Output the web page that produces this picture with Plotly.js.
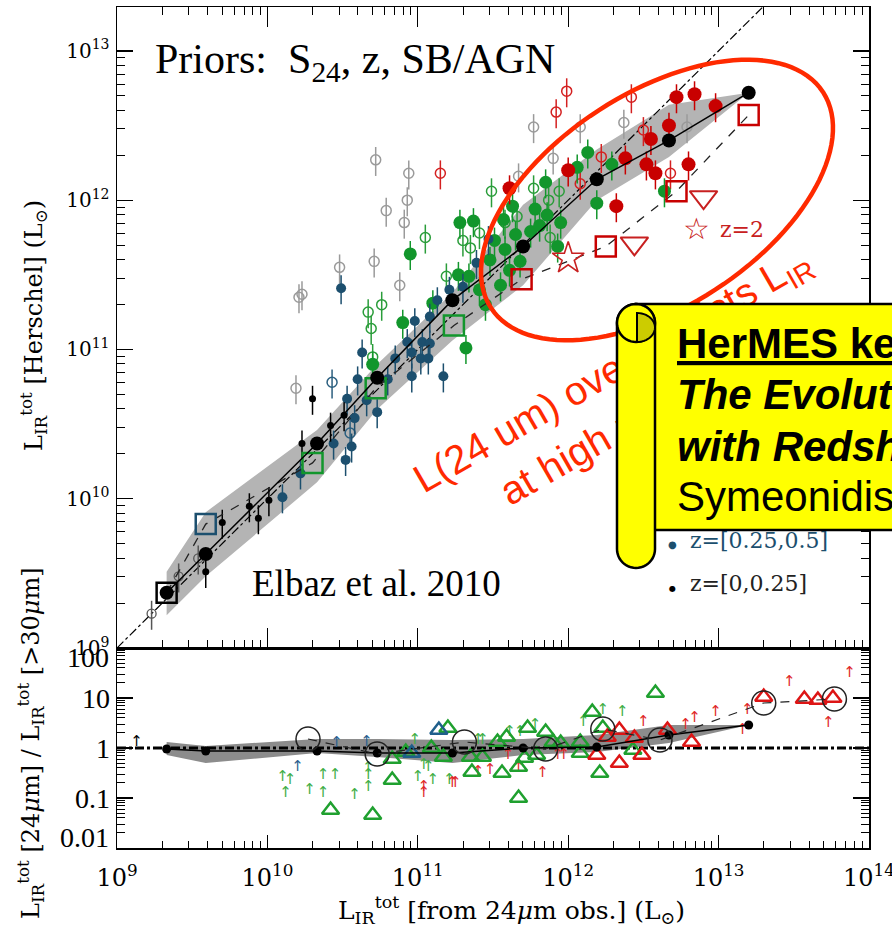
<!DOCTYPE html>
<html>
<head>
<meta charset="utf-8">
<script src="https://cdn.plot.ly/plotly-3.0.1.min.js"></script>
<style>
  html, body { margin: 0; padding: 0; background: #fff; overflow: hidden; }
  #chart, #banner { position: absolute; left: 0; top: 0; width: 892px; height: 930px; }
  #banner { pointer-events: none; }
</style>
</head>
<body>
<div id="chart"></div>
<div id="banner"></div>
<script>
// ===== Data: log10 luminosities (L_sun) =====
// Upper panel: L_IR from Herschel vs L_IR extrapolated from 24um
const medLogL24 = [9.33, 9.59, 10.33, 10.73, 11.23, 11.70, 12.19, 12.67, 13.20];
const medLogLH  = [9.37, 9.63, 10.37, 10.81, 11.33, 11.69, 12.14, 12.40, 12.72];
const bandLogHi = [9.51, 9.91, 10.46, 10.90, 11.38, 11.97, 12.34, 12.64, 12.72];
const bandLogLo = [9.22, 9.48, 10.11, 10.60, 11.06, 11.43, 12.00, 12.29, 12.72];

const sqLogL24 = [9.33, 9.59, 10.30, 10.72, 11.24, 11.69, 12.25, 12.72, 13.20];
const sqLogLH  = [9.37, 9.83, 10.24, 10.74, 11.16, 11.47, 11.69, 12.06, 12.57];
const sqBin    = [0, 1, 2, 2, 2, 3, 3, 3, 3];

const starLogL24 = [12.00];
const starLogLH  = [11.61];
const triDnLogL24 = [12.44, 12.90];
const triDnLogLH  = [11.71, 12.02];

const grayLogL24 = [10.72, 10.94, 10.93, 10.79, 10.91, 10.71, 10.48, 10.23, 10.21, 10.88, 10.19, 11.77, 12.08, 12.37, 12.79, 11.90, 11.67];
const grayLogLH  = [12.27, 12.18, 12.00, 11.93, 11.85, 11.59, 11.55, 11.37, 11.35, 11.43, 10.74, 12.49, 12.49, 12.52, 12.49, 12.28, 12.16];

const z0OpenLogL24 = [9.41, 9.23, 9.54];
const z0OpenLogLH  = [9.48, 9.23, 9.60];
const z0LogL24 = [10.30, 10.23, 10.42, 10.51, 10.01, 9.94, 9.88, 9.70, 9.59];
const z0LogLH  = [10.67, 10.37, 10.49, 10.56, 9.99, 9.87, 9.95, 9.84, 9.51];

const z1LogL24 = [10.49, 11.47, 11.39, 11.13, 11.30, 10.98, 11.21, 11.08, 10.93, 11.03, 11.08, 10.63, 10.85, 10.96, 11.02,
                  11.07, 10.96, 11.17, 10.80, 10.60, 10.53, 10.66, 10.58, 10.73, 10.44, 10.56, 10.52, 10.22, 10.10];
const z1LogLH  = [11.41, 11.74, 11.58, 11.33, 11.42, 11.19, 11.40, 11.22, 11.05, 11.05, 11.04, 10.98, 10.94, 10.98, 10.94,
                  10.94, 10.82, 10.82, 10.80, 10.80, 10.67, 10.66, 10.54, 10.58, 10.37, 10.35, 10.26, 10.17, 10.01];
const z1OpenLogL24 = [10.43, 10.55];
const z1OpenLogLH  = [10.78, 10.44];

const z2LogL24 = [11.28, 11.37, 10.95, 11.27, 11.34, 10.90, 11.10, 11.32, 10.70, 12.13, 12.06, 12.29, 11.85, 12.64, 12.19, 11.63,
                  11.78, 11.86, 11.95, 11.93, 11.57, 11.51, 11.58, 11.65, 11.48, 11.61, 11.55, 11.68, 11.75, 11.41, 11.45, 11.81];
const z2LogLH  = [11.85, 11.86, 11.64, 11.50, 11.49, 11.18, 11.31, 11.01, 10.90, 12.32, 12.22, 12.24, 12.12, 12.06, 11.98, 11.96,
                  11.94, 11.90, 11.85, 11.69, 11.87, 11.73, 11.67, 11.77, 11.60, 11.53, 11.43, 11.59, 11.79, 11.40, 11.30, 11.83];
const z2OpenLogL24 = [11.49, 11.05, 11.30, 11.41, 11.35, 11.19, 10.76, 10.67, 10.69, 11.77, 11.94, 11.87, 11.66, 11.58, 11.88, 10.70];
const z2OpenLogLH  = [12.06, 11.75, 11.73, 11.78, 11.68, 11.49, 11.30, 11.25, 11.14, 12.08, 12.06, 12.00, 11.89, 11.85, 11.75, 10.95];

const z3LogL24 = [12.72, 12.84, 12.98, 12.67, 12.55, 12.38, 12.00, 12.52, 12.58, 12.80, 11.61, 12.32];
const z3LogLH  = [12.69, 12.71, 12.63, 12.50, 12.41, 12.28, 12.20, 12.24, 12.18, 12.24, 12.08, 11.96];
const z3OpenLogL24 = [11.15, 11.99, 11.92, 12.42, 12.50, 12.22, 12.68, 12.08];
const z3OpenLogLH  = [12.18, 12.73, 12.59, 12.69, 12.47, 12.29, 12.18, 12.11];

// Lower panel: log10 of L_IR[24um] / L_IR[>30um]
const medLogRatio = [-0.02, -0.06, -0.06, -0.10, -0.10, 0.00, 0.02, 0.26, 0.46];
const ratioBandHi = [0.12, 0.04, 0.18, 0.18, 0.16, 0.18, 0.26, 0.46, 0.46];
const ratioBandLo = [-0.14, -0.30, -0.10, -0.18, -0.30, -0.14, -0.08, 0.10, 0.46];

const circLogL24   = [10.27, 10.73, 11.31, 11.85, 12.23, 12.61, 13.30, 13.77];
const circLogRatio = [0.18, -0.12, 0.12, -0.02, 0.38, 0.16, 0.90, 0.98];

const triGLogL24 = [10.42, 10.70, 10.83, 10.83, 11.20, 11.09, 11.17, 10.92, 11.53, 11.59, 11.73, 11.85, 11.35, 11.43, 11.36,
                    11.56, 11.67, 11.71, 11.67, 11.79, 11.90, 11.95, 12.08, 12.08, 12.16, 12.23, 12.21, 12.58, 12.43];
const triGLogRatio = [-1.24, -1.34, -0.22, -0.64, 0.40, 0.00, -0.18, -0.08, 0.12, 0.22, 0.40, 0.32, -0.18, -0.18, -0.48,
                      -0.50, -0.38, -0.20, -1.00, -0.14, 0.12, 0.10, -0.10, 0.12, 0.72, 0.40, -0.50, 1.10, -0.04];
const triBLogL24 = [11.14, 10.96];
const triBLogRatio = [0.36, -0.10];
const triRLogL24 = [12.34, 12.26, 12.34, 12.44, 12.49, 12.66, 12.82, 13.30, 13.57, 13.66, 13.76, 12.19];
const triRLogRatio = [0.36, 0.22, -0.30, 0.20, -0.14, 0.36, 0.12, 1.02, 0.98, 0.96, 1.00, -0.14];

// lower limits (upward arrows)
const limKLogL24 = [9.13];
const limKLogRatio = [0.12];
const limBLogL24 = [10.20, 10.46, 10.66];
const limBLogRatio = [-0.38, 0.10, 0.12];
const limGLogL24 = [10.10, 10.15, 10.12, 10.28, 10.37, 10.45, 10.37, 10.58, 10.67, 10.67, 10.67, 10.98, 11.00,
                    11.04, 11.07, 11.10, 11.21, 11.40, 11.43, 11.61, 11.68, 11.78, 12.10, 12.23, 12.36];
const limGLogRatio = [-0.58, -0.64, -0.90, -0.84, -0.54, -0.54, -0.90, -0.94, -0.40, -0.54, -0.78, 0.16, -0.58,
                      -0.34, -0.38, -0.64, -0.64, 0.16, 0.16, 0.32, 0.32, 0.46, 0.52, 0.76, 0.72];
const limRLogL24 = [11.04, 11.04, 11.23, 11.25, 11.40, 11.48, 11.60, 11.67, 11.83, 11.93, 11.97, 12.50, 12.78, 12.84,
                    12.98, 13.19, 13.16, 13.47, 13.73, 13.87];
const limRLogRatio = [-0.78, -0.90, -0.70, -0.70, -0.48, -0.44, -0.14, -0.40, -0.50, -0.14, -0.14, 0.52, 0.46, 0.60,
                      0.72, 0.76, 0.36, 1.32, 0.50, 1.50];

const oneToOne = [1e9, 1e14];
const unity = [1, 1];

// axis ticks
const xDecades = [1e9, 1e10, 1e11, 1e12, 1e13, 1e14];
const xTickText = ['10<sup>9</sup>', '10<sup>10</sup>', '10<sup>11</sup>', '10<sup>12</sup>', '10<sup>13</sup>', '10<sup>14</sup>'];
const yDecades = [1e9, 1e10, 1e11, 1e12, 1e13];
const yTickText = ['10<sup>9</sup>', '10<sup>10</sup>', '10<sup>11</sup>', '10<sup>12</sup>', '10<sup>13</sup>'];
const rDecades = [0.1, 1, 10];
const rTickText = ['0.1', '1', '10'];
const rEdgeText = ['100', '0.01'];

// ===== Styling and layout =====
const binColor = ['#000000', '#1c4f6e', '#12962c', '#c80000'];
const C = { gray: '#9a9a9a', red: '#ff2a00', legRed: '#c82020', band: '#b4b4b4' };

// plot-area frame in page pixels
const L = 117, R = 869, T = 7, B = 848, SPLIT = 648;
const W = R - L, H = B - T;
const px = x => (x - L) / W;
const py = y => (B - y) / H;

const pow10 = a => a.map(v => Math.pow(10, v));
function minorVals(lo, hi) {
  const out = [];
  for (let e = lo; e < hi; e++) for (let m = 2; m <= 9; m++) out.push(m * Math.pow(10, e));
  return out;
}

function pts(lx, ly, extra) {
  return Object.assign({ x: pow10(lx), y: pow10(ly), type: 'scatter', mode: 'markers',
                         hoverinfo: 'skip', showlegend: false, cliponaxis: true }, extra);
}
function errBar(color) {
  return { type: 'percent', value: 22, color: color, thickness: 1.5, width: 0 };
}

const traces = [];
// ---- upper panel ----
traces.push({ x: pow10(medLogL24.concat(medLogL24.slice().reverse())),
              y: pow10(bandLogHi.concat(bandLogLo.slice().reverse())),
              type: 'scatter', mode: 'lines', fill: 'toself', fillcolor: C.band,
              line: { width: 0 }, hoverinfo: 'skip', showlegend: false });
traces.push({ x: oneToOne, y: oneToOne, type: 'scatter', mode: 'lines',
              line: { color: '#000', width: 1.2, dash: 'dashdot' }, hoverinfo: 'skip', showlegend: false });

traces.push(pts(grayLogL24, grayLogLH, { marker: { symbol: 'circle-open', size: 10, color: C.gray, line: { width: 1.5 } }, error_y: errBar(C.gray) }));
traces.push(pts(z0OpenLogL24, z0OpenLogLH, { marker: { symbol: 'circle-open', size: 9, color: '#555', line: { width: 1.3 } }, error_y: errBar('#555') }));
traces.push(pts(z3OpenLogL24, z3OpenLogLH, { marker: { symbol: 'circle-open', size: 10, color: '#d42020', line: { width: 1.5 } }, error_y: errBar('#d42020') }));
traces.push(pts(z2OpenLogL24, z2OpenLogLH, { marker: { symbol: 'circle-open', size: 10, color: '#2a9d3a', line: { width: 1.5 } }, error_y: errBar('#2a9d3a') }));
traces.push(pts(z1OpenLogL24, z1OpenLogLH, { marker: { symbol: 'circle-open', size: 10, color: '#2b5f7f', line: { width: 1.5 } }, error_y: errBar('#2b5f7f') }));
traces.push(pts(z2LogL24, z2LogLH, { marker: { symbol: 'circle', size: 13, color: binColor[2] }, error_y: errBar(binColor[2]) }));
traces.push(pts(z3LogL24, z3LogLH, { marker: { symbol: 'circle', size: 14, color: binColor[3] }, error_y: errBar(binColor[3]) }));
traces.push(pts(z1LogL24, z1LogLH, { marker: { symbol: 'circle', size: 10, color: binColor[1] }, error_y: errBar(binColor[1]) }));
traces.push(pts(z0LogL24, z0LogLH, { marker: { symbol: 'circle', size: 7, color: binColor[0] }, error_y: errBar(binColor[0]) }));

traces.push(pts(sqLogL24, sqLogLH, { mode: 'lines', line: { color: '#222', width: 1.3, dash: 'dash' } }));
traces.push(pts(sqLogL24, sqLogLH, { marker: { symbol: 'square-open', size: 20, color: sqBin.map(b => binColor[b]), line: { width: 2.5 } } }));
traces.push(pts(starLogL24, starLogLH, { marker: { symbol: 'star-open', size: 24, color: C.legRed, line: { width: 1.6 } } }));
traces.push(pts(triDnLogL24, triDnLogLH, { marker: { symbol: 'triangle-down-open', size: 24, color: C.legRed, line: { width: 2 } } }));
traces.push(pts(medLogL24, medLogLH, { mode: 'lines+markers', line: { color: '#000', width: 1.5 }, marker: { size: 14, color: '#000' } }));

// ---- lower panel ----
const lo = { xaxis: 'x2', yaxis: 'y2' };
traces.push(Object.assign({ x: pow10(medLogL24.concat(medLogL24.slice().reverse())),
              y: pow10(ratioBandHi.concat(ratioBandLo.slice().reverse())),
              type: 'scatter', mode: 'lines', fill: 'toself', fillcolor: '#8c8c8c',
              line: { width: 0 }, hoverinfo: 'skip', showlegend: false }, lo));
traces.push(Object.assign({ x: oneToOne, y: unity, type: 'scatter', mode: 'lines',
              line: { color: '#000', width: 3, dash: 'dashdot' }, hoverinfo: 'skip', showlegend: false }, lo));

function arrows(lx, lr, color) {
  return pts(lx, lr, Object.assign({ mode: 'text', text: lx.map(() => '\u2191'),
               textfont: { family: 'DejaVu Sans', size: 15, color: color } }, lo));
}
traces.push(arrows(limKLogL24, limKLogRatio, '#000'));
traces.push(arrows(limBLogL24, limBLogRatio, '#2b5f8f'));
traces.push(arrows(limGLogL24, limGLogRatio, '#3fae46'));
traces.push(arrows(limRLogL24, limRLogRatio, '#e02828'));

traces.push(pts(triGLogL24, triGLogRatio, Object.assign({ marker: { symbol: 'triangle-up-open', size: 15, color: '#1fa02f', line: { width: 2.5 } } }, lo)));
traces.push(pts(triBLogL24, triBLogRatio, Object.assign({ marker: { symbol: 'triangle-up-open', size: 15, color: '#1f5f8b', line: { width: 2.5 } } }, lo)));
traces.push(pts(triRLogL24, triRLogRatio, Object.assign({ marker: { symbol: 'triangle-up-open', size: 15, color: '#dd1515', line: { width: 2.5 } } }, lo)));

traces.push(pts(medLogL24, medLogRatio, Object.assign({ mode: 'lines+markers', line: { color: '#000', width: 1.5 }, marker: { size: 9, color: '#000' } }, lo)));
traces.push(pts(circLogL24, circLogRatio, Object.assign({ mode: 'lines+markers', line: { color: '#222', width: 1.2, dash: 'dash' },
               marker: { symbol: 'circle-open', size: 24, color: '#222', line: { width: 1.5 } } }, lo)));

// ---- axes ----
const axisBase = { type: 'log', showgrid: false, zeroline: false, showline: true, linecolor: '#000',
                   linewidth: 1.5, ticks: 'inside', tickcolor: '#000', tickwidth: 1.3, tickmode: 'array',
                   ticklabeloverflow: 'allow' };
const serif = 'DejaVu Serif';
const times = 'Liberation Serif';

const layout = {
  width: 892, height: 930,
  margin: { l: L, r: 892 - R, t: T, b: 930 - B },
  paper_bgcolor: '#fff', plot_bgcolor: '#fff',
  showlegend: false,
  font: { family: serif, color: '#000' },
  xaxis: Object.assign({}, axisBase, { domain: [0, 1], range: [9, 14], anchor: 'y', tickvals: xDecades,
         showticklabels: false, ticklen: 20, mirror: 'ticks',
         minor: { ticks: 'inside', ticklen: 8, tickvals: minorVals(9, 14), tickcolor: '#000', tickwidth: 1 } }),
  yaxis: Object.assign({}, axisBase, { domain: [py(SPLIT), 1], range: [9, 13.294], anchor: 'x',
         tickvals: yDecades, ticktext: yTickText, ticklen: 16, mirror: 'ticks', ticklabelstandoff: 2,
         tickfont: { family: serif, size: 20, color: '#000' },
         minor: { ticks: 'inside', ticklen: 8, tickvals: minorVals(9, 14), tickcolor: '#000', tickwidth: 1 } }),
  xaxis2: Object.assign({}, axisBase, { domain: [0, 1], range: [9, 14], anchor: 'y2', tickvals: xDecades,
         ticktext: xTickText, ticklen: 13, mirror: true, ticklabelstandoff: 8,
         tickfont: { family: serif, size: 24, color: '#000' },
         minor: { ticks: 'inside', ticklen: 7, tickvals: minorVals(9, 14), tickcolor: '#000', tickwidth: 1 } }),
  yaxis2: Object.assign({}, axisBase, { domain: [0, py(SPLIT)], range: [-2, 2], anchor: 'x2',
         tickvals: rDecades, ticktext: rTickText, ticklen: 16, mirror: 'ticks', ticklabelstandoff: 0,
         tickfont: { family: times, size: 28, color: '#000' },
         minor: { ticks: 'inside', ticklen: 8, tickvals: minorVals(-2, 2), tickcolor: '#000', tickwidth: 1 } }),
  shapes: [],
  annotations: []
};

// red ellipse around the high-luminosity sources
function ellipsePath(cx, cy, a, b, angDeg, n) {
  const t = angDeg * Math.PI / 180;
  let d = '';
  for (let i = 0; i <= n; i++) {
    const s = 2 * Math.PI * i / n;
    const ex = a * Math.cos(s), ey = b * Math.sin(s);
    const x = cx + ex * Math.cos(t) - ey * Math.sin(t);
    const y = cy + ex * Math.sin(t) + ey * Math.cos(t);
    d += (i ? ' L ' : 'M ') + px(x).toFixed(5) + ',' + py(y).toFixed(5);
  }
  return d + ' Z';
}
layout.shapes.push({ type: 'path', xref: 'paper', yref: 'paper', layer: 'above',
                     path: ellipsePath(657, 200, 198, 107, -33, 120),
                     line: { color: C.red, width: 4.5 }, fillcolor: 'rgba(0,0,0,0)' });

function note(x, y, text, opts) {
  return Object.assign({ xref: 'paper', yref: 'paper', x: px(x), y: py(y), text: text, showarrow: false,
                         xanchor: 'center', yanchor: 'middle' }, opts);
}
const A = layout.annotations;
A.push(note(153, 62, 'Priors:\u00a0\u00a0S<sub>24</sub>, z, SB/AGN', { xanchor: 'left',
          font: { family: times, size: 42, color: '#000' } }));
A.push(note(250, 584, 'Elbaz et al. 2010', { xanchor: 'left',
          font: { family: times, size: 37, color: '#000' } }));
A.push(note(33, 326, 'L<sub>IR</sub><sup>tot</sup> [Herschel] (L<sub>\u2299</sub>)', { textangle: -90,
          font: { family: serif, size: 24, color: '#000' } }));
A.push(note(30, 743, 'L<sub>IR</sub><sup>tot</sup> [24<i>\u03bc</i>m] / L<sub>IR</sub><sup>tot</sup> [>30<i>\u03bc</i>m]', { textangle: -90,
          font: { family: serif, size: 24, color: '#000' } }));
A.push(note(511, 910, 'L<sub>IR</sub><sup>tot</sup> [from 24<i>\u03bc</i>m obs.] (L<sub>\u2299</sub>)', {
          font: { family: serif, size: 25, color: '#000' } }));
A.push(note(111, 657, rEdgeText[0], { xanchor: 'right', font: { family: times, size: 28, color: '#000' } }));
A.push(note(111, 837, rEdgeText[1], { xanchor: 'right', font: { family: times, size: 28, color: '#000' } }));

// rotated call-out text
A.push(note(613, 372, 'L(24 um) overpredicts L<sub>IR</sub>', { textangle: -30,
          font: { family: 'Liberation Sans', size: 40, color: C.red } }));
A.push(note(568, 457, 'at high z', { textangle: -30,
          font: { family: 'Liberation Sans', size: 40, color: C.red } }));

// legend entries
A.push(note(696, 228, '\u2606', { font: { family: 'DejaVu Sans', size: 30, color: C.legRed } }));
A.push(note(718, 229, 'z=2', { xanchor: 'left', font: { family: serif, size: 22, color: C.legRed } }));
A.push(note(672, 544, '\u25cf', { font: { family: 'DejaVu Sans', size: 10, color: binColor[1] } }));
A.push(note(688, 540, 'z=[0.25,0.5]', { xanchor: 'left', font: { family: serif, size: 22, color: binColor[1] } }));
A.push(note(672, 588, '\u25cf', { font: { family: 'DejaVu Sans', size: 8, color: '#000' } }));
A.push(note(688, 583, 'z=[0,0.25]', { xanchor: 'left', font: { family: serif, size: 22, color: '#222' } }));

Plotly.newPlot('chart', traces, layout, { staticPlot: true, displayModeBar: false });

// ===== Banner scroll drawn on a transparent layer above the chart =====
function pathFrom(points) {
  return points.map((p, i) => (i ? 'L ' : 'M ') + px(p[0]).toFixed(5) + ',' + py(p[1]).toFixed(5)).join(' ') + ' Z';
}
function arc(cx, cy, rx, ry, a0, a1, n) {
  const out = [];
  for (let i = 0; i <= n; i++) {
    const a = (a0 + (a1 - a0) * i / n) * Math.PI / 180;
    out.push([cx + rx * Math.cos(a), cy + ry * Math.sin(a)]);
  }
  return out;
}
const yellow = '#ffff00', stroke = { color: '#000', width: 2.5 };
const bannerShapes = [
  { type: 'rect', xref: 'paper', yref: 'paper', x0: px(636), x1: px(1000), y0: py(530), y1: py(304),
    fillcolor: yellow, line: stroke },
  { type: 'path', xref: 'paper', yref: 'paper', fillcolor: yellow, line: stroke,
    path: pathFrom(arc(636, 549, 19, 19, 180, 0, 24).concat(arc(636, 323, 19, 19, 0, -180, 24))) },
  { type: 'path', xref: 'paper', yref: 'paper', fillcolor: yellow, line: stroke,
    path: pathFrom(arc(636, 323, 19, 19, 0, 360, 48)) },
  { type: 'path', xref: 'paper', yref: 'paper', fillcolor: '#cccc00', line: { color: '#000', width: 2 },
    path: pathFrom(arc(637, 327.5, 18, 14.5, -90, 90, 24)) }
];
const bannerLines = ['<b><u>HerMES key paper</u></b>', '<b><i>The Evolution of the IR SED</i></b>',
                     '<b><i>with Redshift</i></b>', 'Symeonidis et al. 2013'];
const bannerMid = [343, 394, 446, 497];
Plotly.newPlot('banner', [], {
  width: 892, height: 930,
  margin: { l: L, r: 892 - R, t: T, b: 930 - B },
  paper_bgcolor: 'rgba(0,0,0,0)', plot_bgcolor: 'rgba(0,0,0,0)',
  xaxis: { visible: false, range: [0, 1] }, yaxis: { visible: false, range: [0, 1] },
  shapes: bannerShapes,
  annotations: bannerLines.map((t, i) => note(675, bannerMid[i], t, { xanchor: 'left',
                 font: { family: 'Liberation Sans', size: 42, color: '#000' } }))
}, { staticPlot: true, displayModeBar: false });
</script>
</body>
</html>
